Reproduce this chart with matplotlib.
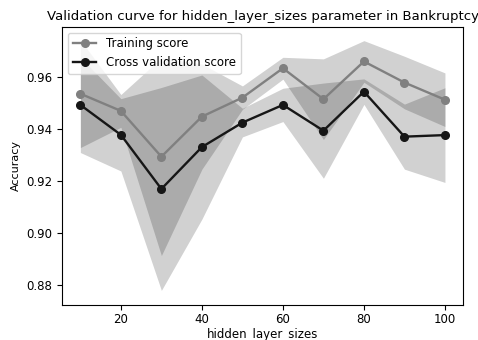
import matplotlib
matplotlib.use('Agg')
import matplotlib.pyplot as plt
import numpy as np

param_range = [10, 20, 30, 40, 50, 60, 70, 80, 90, 100]
train_mean = [0.9535, 0.9469, 0.9293, 0.9447, 0.9520, 0.9633, 0.9514, 0.9659, 0.9578, 0.9512]
train_std = [0.0207, 0.0063, 0.0380, 0.0202, 0.0045, 0.0042, 0.0155, 0.0080, 0.0101, 0.0103]
cv_mean = [0.9492, 0.9377, 0.9169, 0.9330, 0.9424, 0.9492, 0.9393, 0.9543, 0.9370, 0.9376]
cv_std = [0.0183, 0.0139, 0.0390, 0.0277, 0.0055, 0.0064, 0.0183, 0.0049, 0.0125, 0.0182]

x = np.array(param_range)
tm, ts = np.array(train_mean), np.array(train_std)
cm, cs = np.array(cv_mean), np.array(cv_std)

fig = plt.figure(figsize=(4.78, 3.40), dpi=100)
ax = fig.add_axes([0.130, 0.103, 0.839, 0.818])

ax.plot(x, tm, 'o-', color='#808080', lw=1.7, ms=5.5, label='Training score')
ax.fill_between(x, tm - ts, tm + ts, color='k', alpha=0.18, lw=0)
ax.plot(x, cm, 'o-', color='#161616', lw=1.7, ms=5.5, label='Cross validation score')
ax.fill_between(x, cm - cs, cm + cs, color='k', alpha=0.18, lw=0)

ax.set_ylim(0.8723, 0.9792)
ax.set_title('Validation curve for hidden_layer_sizes parameter in Bankruptcy', fontsize=9.5, pad=5)
ax.set_xlabel('hidden_layer_sizes', fontsize=8.5, labelpad=1)
ax.set_ylabel('Accuracy', fontsize=8)
ax.tick_params(labelsize=8.5)
ax.tick_params(axis='x', pad=2.5)
ax.legend(loc='upper left', fontsize=8.5)

fig.savefig('out.png', dpi=100)
